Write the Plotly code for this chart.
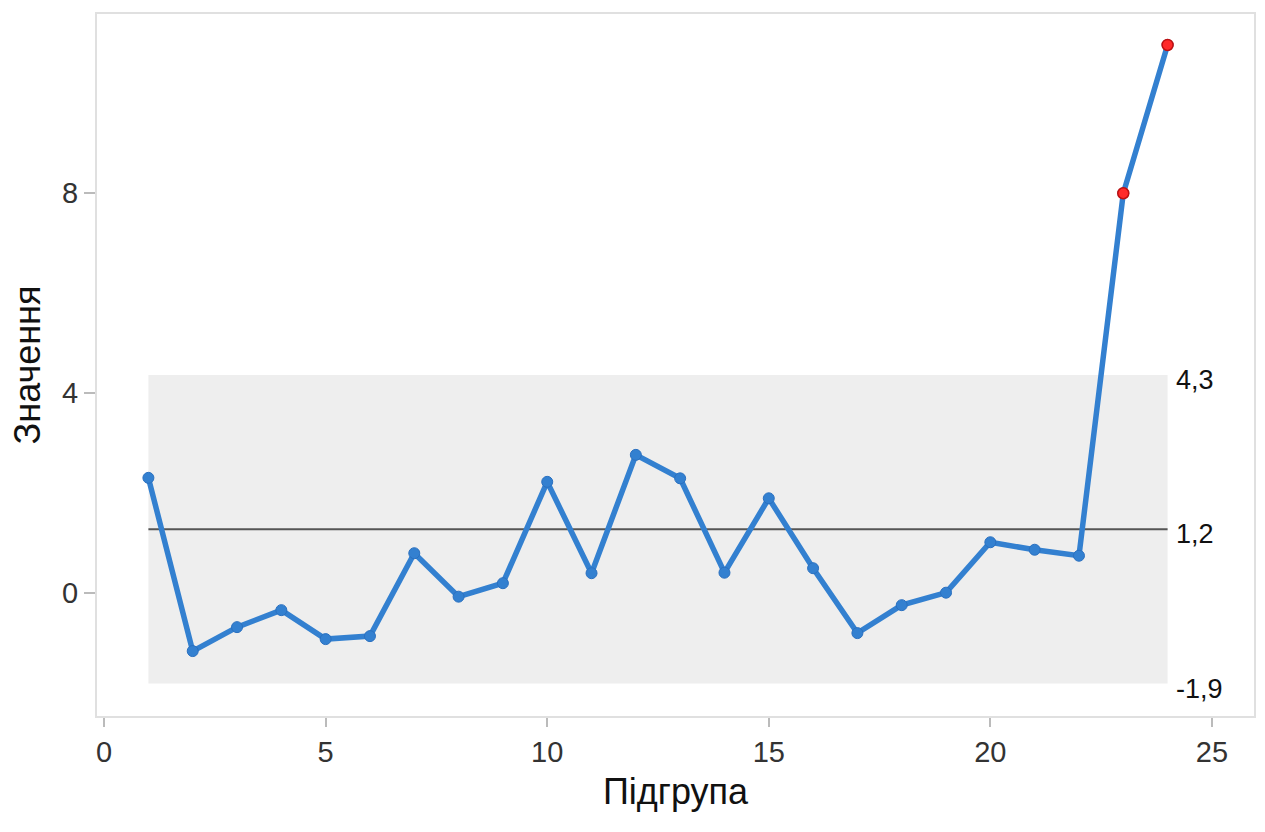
import plotly.graph_objects as go

subgroups = list(range(1, 25))
values = [2.30, -1.17, -0.69, -0.35, -0.93, -0.87, 0.79, -0.08, 0.19, 2.22,
          0.39, 2.76, 2.29, 0.40, 1.89, 0.49, -0.81, -0.25, 0.00, 1.01,
          0.86, 0.74, 8.00, 10.97]
limit_values = [4.36, 1.27, -1.82]        # UCL, CL, LCL
limit_labels = ["4,3", "1,2", "-1,9"]
x_ticks = [0, 5, 10, 15, 20, 25]
y_ticks = [0, 4, 8]

ucl, cl, lcl = limit_values
out_x = [x for x, v in zip(subgroups, values) if v > ucl or v < lcl]
out_y = [v for v in values if v > ucl or v < lcl]

FONT = "Arial, Liberation Sans, sans-serif"
BLUE = "#3380d0"

fig = go.Figure()
fig.add_trace(go.Scatter(
    x=subgroups, y=values, mode="lines+markers",
    line=dict(color=BLUE, width=5.5),
    marker=dict(color=BLUE, size=11, line=dict(color="#2a70c0", width=1)),
    showlegend=False, hoverinfo="x+y"))
fig.add_trace(go.Scatter(
    x=out_x, y=out_y, mode="markers",
    marker=dict(color="#ff2a2a", size=11, line=dict(color="#c01010", width=1.5)),
    showlegend=False))

x0, x1 = subgroups[0], subgroups[-1]
fig.add_shape(type="rect", xref="x", yref="y", x0=x0, x1=x1, y0=lcl, y1=ucl,
              fillcolor="#eeeeee", line=dict(width=0), layer="below")
fig.add_shape(type="line", xref="x", yref="y", x0=x0, x1=x1, y0=cl, y1=cl,
              line=dict(color="#555555", width=2), layer="below")

for v, lab in zip(limit_values, limit_labels):
    fig.add_annotation(x=x1, y=v, xref="x", yref="y", text=lab, showarrow=False,
                       xanchor="left", yanchor="middle", xshift=6, yshift=-5,
                       font=dict(family=FONT, size=27, color="#111111"))

fig.update_layout(
    width=1265, height=832,
    margin=dict(l=97, r=9, t=14, b=116),
    paper_bgcolor="white", plot_bgcolor="white",
    font=dict(family=FONT, color="#222222"),
)
fig.update_xaxes(
    range=[-0.16, 25.95], tickvals=x_ticks, ticktext=[str(t) for t in x_ticks],
    showgrid=False, zeroline=False,
    showline=True, mirror=True, linecolor="#e0e0e0", linewidth=2,
    ticks="outside", ticklen=9, tickwidth=2, tickcolor="#bbbbbb",
    tickfont=dict(family=FONT, size=29, color="#333333"),
    title=dict(text="Підгрупа", font=dict(family=FONT, size=36, color="#111111"), standoff=12),
)
fig.update_yaxes(
    range=[-2.47, 11.59], tickvals=y_ticks, ticktext=[str(t) for t in y_ticks],
    showgrid=False, zeroline=False,
    showline=True, mirror=True, linecolor="#e0e0e0", linewidth=2,
    ticks="outside", ticklen=11, tickwidth=2, tickcolor="#bbbbbb",
    tickfont=dict(family=FONT, size=29, color="#333333"),
    title=dict(text="Значення", font=dict(family=FONT, size=36, color="#111111"), standoff=10),
)

fig.write_html("out.html", config={"displayModeBar": False},
               post_script="document.body.style.margin='0';")
